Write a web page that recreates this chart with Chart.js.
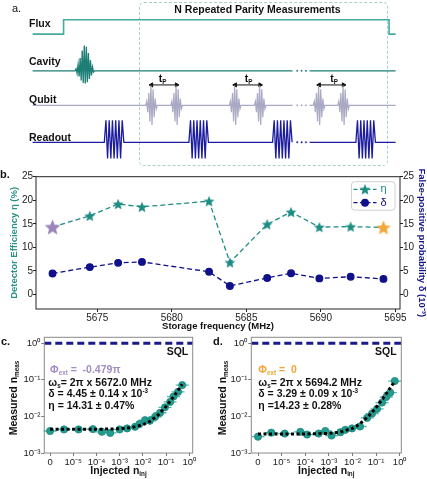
<!DOCTYPE html>
<html><head><meta charset="utf-8">
<script src="https://cdn.jsdelivr.net/npm/chart.js@4.4.1/dist/chart.umd.min.js"></script>
<style>
html,body{margin:0;padding:0;background:#fff;}
#wrap{position:relative;width:427px;height:479px;overflow:hidden;font-family:'Liberation Sans',Arial,sans-serif;background:#fff;}
canvas{position:absolute;}
.t{position:absolute;white-space:nowrap;line-height:1;color:#111;}
.t sub{font-size:0.6em;vertical-align:-0.35em;line-height:0;}
.t sup{font-size:0.6em;vertical-align:0.6em;line-height:0;}
</style></head><body>
<div id="wrap">
<div style="position:absolute;left:139px;top:1.5px;width:247px;height:162px;border:1px dashed #a9cfca;border-radius:5px;"></div>
<canvas id="ca" width="427" height="168" style="left:0;top:0;width:427px;height:168px"></canvas>
<canvas id="cb" width="427" height="178" style="left:0;top:160px;width:427px;height:178px"></canvas>
<canvas id="cc" width="212" height="151" style="left:0;top:328px;width:212px;height:151px"></canvas>
<canvas id="cd" width="215" height="151" style="left:212px;top:328px;width:215px;height:151px"></canvas>
</div>
<script>
// ---------------- DATA ----------------
// panel a: pulse-sequence schematic (time units 0..100)
const fluxT = [0, 8.53, 8.53, 98.2, 98.2, 100];
const fluxLevel = [3.1, 3.1, 1.57, 1.57, 3.1, 3.1];
const cavityPulseT = [14.37];
const qubitPulseT = [32.74, 39.66, 55.8, 62.68, 78.93, 85.66];
const readoutPulseT = [22.44, 45.74, 68.79, 91.74];
const tpPairs = [[32.74, 39.66], [55.8, 62.68], [78.93, 85.66]];
const gapT = [71.6, 76.3];
const dotT = [72.9, 74.1, 75.3];
const cavityShape = [0, 0.08, -0.1, 0.25, -0.22, 0.5, -0.38, 0.8, -0.48, 1.0, -0.5, 0.95, -0.45, 0.7, -0.32, 0.42, -0.18, 0.15, -0.05, 0];
const qubitShape = [0, 0.2, -0.35, 0.62, -0.82, 1.0, -1.0, 0.82, -0.6, 0.35, -0.18, 0];
const readoutShape = [0, 1, -0.74, 1, -0.74, 1, -0.74, 1, -0.74, 1, -0.74, 1, 0];

// panel b
const freqMHz = [5672.0, 5674.5, 5676.4, 5678.0, 5682.5, 5683.9, 5686.4, 5688.0, 5689.9, 5692.0, 5694.2];
const etaPct  = [14.31, 16.7, 19.2, 18.6, 19.8, 6.8, 14.9, 17.5, 14.3, 14.4, 14.23];
const deltaE3 = [4.45, 5.8, 6.7, 6.9, 4.8, 1.8, 3.5, 4.5, 3.4, 3.75, 3.29];
const freqTicks = [5675, 5680, 5685, 5690, 5695];
const bYTicks = [0, 5, 10, 15, 20, 25];

// panels c, d
const nInjC  = [0, 6e-6, 1.7e-5, 7e-5, 1.7e-4, 3.9e-4, 1.0e-3, 2.1e-3, 4.6e-3, 7.1e-3, 1.24e-2, 2.0e-2, 3.4e-2, 5.5e-2, 9.0e-2, 0.15, 0.21, 0.33, 0.5];
const nMeasC = [4.0e-3, 4.4e-3, 4.4e-3, 4.5e-3, 3.8e-3, 3.55e-3, 4.4e-3, 4.7e-3, 5.2e-3, 6.2e-3, 7.9e-3, 7.6e-3, 9.8e-3, 1.26e-2, 1.78e-2, 2.5e-2, 3.5e-2, 4.7e-2, 7.2e-2];
const fitNC  = [0, 1e-5, 1e-4, 1e-3, 3e-3, 1e-2, 2e-2, 5e-2, 0.1, 0.2, 0.35, 0.5];
const fitMC  = [4.45e-3, 4.45e-3, 4.46e-3, 4.6e-3, 4.9e-3, 5.9e-3, 7.3e-3, 1.16e-2, 1.88e-2, 3.31e-2, 5.46e-2, 7.6e-2];
const nInjD  = [0, 5.6e-6, 1.35e-5, 6.2e-5, 1.2e-4, 3.7e-4, 7.1e-4, 1.3e-3, 3.1e-3, 5.0e-3, 9.6e-3, 2.1e-2, 4.2e-2, 6.8e-2, 0.11, 0.18, 0.27, 0.4, 0.62];
const nMeasD = [2.8e-3, 3.6e-3, 3.4e-3, 3.8e-3, 3.2e-3, 3.4e-3, 4.0e-3, 3.0e-3, 3.7e-3, 4.3e-3, 4.7e-3, 5.3e-3, 9.1e-3, 1.2e-2, 1.6e-2, 2.4e-2, 3.4e-2, 4.5e-2, 9.3e-2];
const fitND  = [0, 1e-5, 1e-4, 1e-3, 3e-3, 1e-2, 2e-2, 5e-2, 0.1, 0.2, 0.4, 0.62];
const fitMD  = [3.3e-3, 3.3e-3, 3.31e-3, 3.43e-3, 3.72e-3, 4.72e-3, 6.14e-3, 1.04e-2, 1.75e-2, 3.18e-2, 6.02e-2, 9.15e-2];
const sqlLevel = 1;
const injTicks = [0, 1e-5, 1e-4, 1e-3, 1e-2, 1e-1, 1];
const injTickLabels = ['0', '10⁻⁵', '10⁻⁴', '10⁻³', '10⁻²', '10⁻¹', '10⁰'];
const measTicks = [1e-3, 1e-2, 1e-1, 1];
const measTickLabels = ['10⁻³', '10⁻²', '10⁻¹', '10⁰'];

// ---------------- SETUP ----------------
Chart.defaults.font.family = "'Liberation Sans', Arial, sans-serif";
Chart.defaults.color = '#222';
const wrap = document.getElementById('wrap');
function label(html, x, y, o = {}) {
  const d = document.createElement('div');
  d.className = 't'; d.innerHTML = html;
  d.style.left = x + 'px'; d.style.top = y + 'px';
  d.style.fontSize = (o.size || 10) + 'px';
  d.style.fontWeight = o.bold === false ? 'normal' : 'bold';
  d.style.color = o.color || '#111';
  const tx = o.align === 'center' ? '-50%' : o.align === 'right' ? '-100%' : '0';
  d.style.transform = `translate(${tx},-50%)` + (o.rotate ? ` rotate(${o.rotate}deg)` : '');
  wrap.appendChild(d);
}
class SymlogScale extends Chart.LinearScale {
  static id = 'symlog';
  static defaults = {};
  _fwd(v) { const th = 1e-5, a = Math.abs(v); return a <= th ? v / th : Math.sign(v) * (1 + Math.log10(a / th)); }
  _inv(u) { const th = 1e-5, a = Math.abs(u); return a <= 1 ? u * th : Math.sign(u) * th * Math.pow(10, a - 1); }
  getPixelForValue(v) {
    const a = this._fwd(this.min), b = this._fwd(this.max);
    return this.getPixelForDecimal((this._fwd(v) - a) / (b - a));
  }
  getValueForPixel(p) {
    const a = this._fwd(this.min), b = this._fwd(this.max);
    return this._inv(a + this.getDecimalForPixel(p) * (b - a));
  }
}
Chart.register(SymlogScale);
const framePlugin = color => ({ id: 'frame', afterDraw(chart) {
  const { ctx, chartArea: a } = chart; ctx.save(); ctx.strokeStyle = color; ctx.lineWidth = 1;
  ctx.strokeRect(a.left, a.top, a.right - a.left, a.bottom - a.top); ctx.restore(); } });

function makeStar(color, d) {
  const c = document.createElement('canvas'); c.width = c.height = d;
  const g = c.getContext('2d'); const R = d / 2 - 0.3, r = R * 0.45;
  g.beginPath();
  for (let k = 0; k < 10; k++) {
    const ang = -Math.PI / 2 + k * Math.PI / 5, rr = k % 2 ? r : R;
    g.lineTo(d / 2 + rr * Math.cos(ang), d / 2 + R * 0.1 + rr * Math.sin(ang));
  }
  g.closePath(); g.fillStyle = color; g.fill(); return c;
}

// ---------------- PANEL A ----------------
const C_FLUX = '#45aaa0', C_CAV = '#1d7e76', C_QB = '#a9a9c4', C_RO = '#1c1c9e';
function channel(base, amp, shape, centers, halfW) {
  const pts = [{ x: 0, y: base }];
  const ev = centers.map(c => ({ x: c, p: true })).concat([{ x: gapT[0], p: false }]).sort((a, b) => a.x - b.x);
  for (const e of ev) {
    if (e.p) shape.forEach((s, i) => pts.push({ x: e.x - halfW + 2 * halfW * i / (shape.length - 1), y: base - amp * s }));
    else pts.push({ x: gapT[0], y: base }, { x: (gapT[0] + gapT[1]) / 2, y: null }, { x: gapT[1], y: base });
  }
  pts.push({ x: 100, y: base });
  return pts;
}
const laneCav = 7.0, laneQb = 10.67, laneRo = 14.6, arrowY = 8.5;
const aSets = [
  { data: fluxT.map((t, i) => ({ x: t, y: fluxLevel[i] })), borderColor: C_FLUX, borderWidth: 1.6 },
  { data: channel(laneCav, 2.7, cavityShape, cavityPulseT, 2.69), borderColor: C_CAV, borderWidth: 1.3 },
  { data: channel(laneQb, 2.1, qubitShape, qubitPulseT, 1.61), borderColor: C_QB, borderWidth: 1.2 },
  { data: channel(laneRo, 2.33, readoutShape, readoutPulseT, 2.69), borderColor: C_RO, borderWidth: 1.3 },
];
tpPairs.forEach(p => aSets.push({ data: p.map(t => ({ x: t, y: arrowY })), borderColor: '#111', borderWidth: 1,
  pointStyle: 'triangle', pointRadius: 2.4, pointRotation: [270, 90], pointBackgroundColor: '#111', pointBorderColor: '#111' }));
[[laneCav, C_CAV], [laneQb, C_QB], [laneRo, C_RO]].forEach(([ly, col]) => aSets.push({ data: dotT.map(t => ({ x: t, y: ly })),
  showLine: false, pointRadius: 0.75, pointBorderWidth: 0.5, pointBackgroundColor: col, pointBorderColor: col }));
new Chart(document.getElementById('ca'), {
  type: 'line', data: { datasets: aSets.map(s => Object.assign({ pointRadius: 0, fill: false, tension: 0, spanGaps: false }, s)) },
  options: { responsive: false, animation: false, events: [], layout: { padding: 0 },
    plugins: { legend: { display: false }, tooltip: { enabled: false } },
    scales: { x: { type: 'linear', display: false, min: -7.61, max: 107.27 },
              y: { type: 'linear', display: false, min: 0, max: 16.8, reverse: true } } }
});
label('a.', 12, 8, { size: 11, bold: false });
label('N Repeated Parity Measurements', 257.5, 8.5, { align: 'center', size: 10.5 });
label('Flux', 29, 23.3, { size: 10.5 });
label('Cavity', 29, 61, { size: 10.5 });
label('Qubit', 29, 99, { size: 10.5 });
label('Readout', 29, 136.7, { size: 10.5 });
[162.5, 248.5, 334].forEach(x => label('t<sub>P</sub>', x, 78, { align: 'center', size: 10.5 }));

// ---------------- PANEL B ----------------
const C_ETA = '#1e8d84', C_DEL = '#10108a';
const starS = makeStar(C_ETA, 12), starP = makeStar('#9b86bb', 17), starO = makeStar('#f2a73b', 16);
const legendPlugin = { id: 'inLegend', afterDraw(chart) {
  const { ctx, chartArea: a } = chart; const w = 43.5, h = 28.5, x0 = a.right - 5 - w, y0 = a.top + 5;
  ctx.save(); ctx.beginPath(); ctx.roundRect(x0, y0, w, h, 3); ctx.fillStyle = 'rgba(255,255,255,0.85)'; ctx.fill();
  ctx.strokeStyle = '#d0d0d0'; ctx.lineWidth = 1; ctx.stroke();
  const rows = [[C_ETA, 'η', { pointStyle: starS, radius: 5, rotation: 0 }], [C_DEL, 'δ', { pointStyle: 'circle', radius: 3.3, rotation: 0, borderWidth: 1 }]];
  rows.forEach((r, i) => {
    const y = y0 + 7.6 + i * 13.4;
    ctx.strokeStyle = r[0]; ctx.lineWidth = 1.3; ctx.setLineDash([4, 2.5]);
    ctx.beginPath(); ctx.moveTo(x0 + 2, y); ctx.lineTo(x0 + 25, y); ctx.stroke(); ctx.setLineDash([]);
    ctx.fillStyle = r[0]; ctx.strokeStyle = r[0];
    Chart.helpers.drawPoint(ctx, r[2], x0 + 13.5, y);
    ctx.font = "11px 'Liberation Sans', Arial, sans-serif"; ctx.textBaseline = 'middle'; ctx.fillStyle = r[0];
    ctx.fillText(r[1], x0 + 29, y);
  });
  ctx.restore(); } };
const tickGrid = col => ({ drawOnChartArea: false, drawTicks: true, tickLength: 3, color: col });
new Chart(document.getElementById('cb'), {
  type: 'line',
  data: { datasets: [
    { data: freqMHz.map((f, i) => ({ x: f, y: etaPct[i] })), yAxisID: 'y', borderColor: C_ETA, borderWidth: 1.3, borderDash: [5, 3],
      pointStyle: c => c.dataIndex === 0 ? starP : c.dataIndex === freqMHz.length - 1 ? starO : starS, pointRadius: 6 },
    { data: freqMHz.map((f, i) => ({ x: f, y: deltaE3[i] })), yAxisID: 'y2', borderColor: C_DEL, borderWidth: 1.3, borderDash: [5, 3],
      pointStyle: 'circle', pointRadius: 3.3, pointBackgroundColor: C_DEL, pointBorderColor: C_DEL }
  ] },
  options: { responsive: false, animation: false, events: [], layout: { padding: { top: 16.7, left: 0, right: 0, bottom: 0 } },
    plugins: { legend: { display: false }, tooltip: { enabled: false } },
    scales: {
      x: { type: 'linear', min: 5670.89, max: 5695.31, bounds: 'data',
        afterBuildTicks: s => { s.ticks = freqTicks.map(v => ({ value: v })); },
        ticks: { callback: v => String(v), autoSkip: false, maxRotation: 0, padding: 0, font: { size: 10 }, color: '#222' },
        grid: tickGrid('#222'), border: { display: false },
        title: { display: true, text: 'Storage frequency (MHz)', font: { size: 9.5, weight: 'bold' }, color: '#111', padding: { top: 0, bottom: 6.3 } },
        afterFit: s => { s.height = 29; } },
      y: { type: 'linear', position: 'left', min: -3.1, max: 25, bounds: 'data',
        afterBuildTicks: s => { s.ticks = bYTicks.map(v => ({ value: v })); },
        ticks: { callback: v => String(v), padding: 0, font: { size: 10 }, color: '#222' },
        grid: tickGrid('#222'), border: { display: false },
        title: { display: true, text: 'Detector Efficiency η (%)', font: { size: 9.5, weight: 'bold' }, color: '#2a9187', padding: { top: 8.3, bottom: 0 } },
        afterFit: s => { s.width = 36; } },
      y2: { type: 'linear', position: 'right', min: -3.1, max: 25, bounds: 'data',
        afterBuildTicks: s => { s.ticks = bYTicks.map(v => ({ value: v })); },
        ticks: { callback: v => String(v), padding: 0, font: { size: 10 }, color: '#222' },
        grid: tickGrid('#222'), border: { display: false },
        title: { display: true, text: 'False-positive probability δ (10⁻³)', font: { size: 9.5, weight: 'bold' }, color: '#14148c', padding: { top: 0, bottom: 0 } },
        afterFit: s => { s.width = 27; } }
    } },
  plugins: [framePlugin('#222'), legendPlugin]
});
label('b.', 0, 174, { size: 11 });

// ---------------- PANELS C, D ----------------
const errPlugin = { id: 'err', beforeDatasetsDraw(chart) {
  const { ctx } = chart; const meta = chart.getDatasetMeta(1);
  ctx.save(); ctx.strokeStyle = '#4fb8ac'; ctx.lineWidth = 1.3;
  meta.data.forEach(el => { ctx.beginPath(); ctx.moveTo(el.x - 6.5, el.y); ctx.lineTo(el.x + 6.5, el.y);
    ctx.moveTo(el.x, el.y - 3); ctx.lineTo(el.x, el.y + 3); ctx.stroke(); });
  ctx.restore(); } };
const sqlPlugin = { id: 'sql', afterDatasetsDraw(chart) {
  const { ctx, chartArea: a } = chart; const y = chart.scales.y.getPixelForValue(sqlLevel);
  ctx.save(); ctx.strokeStyle = '#1a1a8a'; ctx.lineWidth = 3; ctx.setLineDash([7, 4]);
  ctx.beginPath(); ctx.moveTo(a.left, y); ctx.lineTo(a.right, y); ctx.stroke(); ctx.restore(); } };
function nChart(id, nInj, nMeas, fitN, fitM, xmin, xmax, leftW, rightPad) {
  new Chart(document.getElementById(id), {
    type: 'line',
    data: { datasets: [
      { data: fitN.map((n, i) => ({ x: n, y: fitM[i] })), borderColor: '#000', borderWidth: 3, borderDash: [3, 2.5], pointRadius: 0, tension: 0 },
      { data: nInj.map((n, i) => ({ x: n, y: nMeas[i] })), showLine: false, pointRadius: 3.6, pointBackgroundColor: '#239b8f', pointBorderColor: '#1b877c', pointBorderWidth: 0.8 }
    ] },
    options: { responsive: false, animation: false, events: [], layout: { padding: { top: 9.3, left: 0, right: rightPad, bottom: 0 } },
      plugins: { legend: { display: false }, tooltip: { enabled: false } },
      scales: {
        x: { type: 'symlog', min: xmin, max: xmax, bounds: 'data',
          afterBuildTicks: s => { s.ticks = injTicks.map(v => ({ value: v })); },
          ticks: { callback: (v, i) => injTickLabels[i], autoSkip: false, maxRotation: 0, padding: 1, font: { size: 9.5 }, color: '#222' },
          grid: tickGrid('#777'), border: { display: false }, afterFit: s => { s.height = 26; } },
        y: { type: 'logarithmic', min: 1e-3, max: 1.46, bounds: 'data',
          afterBuildTicks: s => { s.ticks = measTicks.map(v => ({ value: v })); },
          ticks: { callback: (v, i) => measTickLabels[i], autoSkip: false, padding: 1, font: { size: 9.5 }, color: '#222' },
          grid: tickGrid('#777'), border: { display: false }, afterFit: s => { s.width = leftW; } }
      } },
    plugins: [framePlugin('#8a8a8a'), errPlugin, sqlPlugin]
  });
}
nChart('cc', nInjC, nMeasC, fitNC, fitMC, -2.5e-6, 1.41, 44.3, 19.3);
nChart('cd', nInjD, nMeasD, fitND, fitMD, -2.84e-6, 1.175, 39.3, 25.7);

label('c.', 1, 341, { size: 11 });
label('d.', 213, 341, { size: 11 });
label('Measured n<sub>meas</sub>', 13.3, 398, { align: 'center', size: 10.5, rotate: -90 });
label('Measured n<sub>meas</sub>', 222, 398, { align: 'center', size: 10.5, rotate: -90 });
label('Injected n<sub>inj</sub>', 118.5, 470, { align: 'center', size: 10.5 });
label('Injected n<sub>inj</sub>', 326.3, 470, { align: 'center', size: 10.5 });
label('SQL', 188.3, 350.5, { align: 'right', size: 10.5 });
label('SQL', 396.7, 350.5, { align: 'right', size: 10.5 });
label('Φ<sub>ext</sub> = &nbsp;-0.479π', 50, 369.3, { size: 10.5, color: '#a38cc4' });
label('ω<sub>s</sub>= 2π x 5672.0 MHz', 48.3, 381.7, { size: 10.5 });
label('δ = 4.45 ± 0.14 x 10<sup>-3</sup>', 48.3, 393.2, { size: 10.5 });
label('η = 14.31 ± 0.47%', 48.3, 405, { size: 10.5 });
label('Φ<sub>ext</sub> = &nbsp;0', 258.3, 369.3, { size: 10.5, color: '#f0a53a' });
label('ω<sub>s</sub>= 2π x 5694.2 MHz', 258.3, 381.7, { size: 10.5 });
label('δ = 3.29 ± 0.09 x 10<sup>-3</sup>', 258.3, 393.2, { size: 10.5 });
label('η =14.23 ± 0.28%', 258.3, 405, { size: 10.5 });
</script>
</body></html>
